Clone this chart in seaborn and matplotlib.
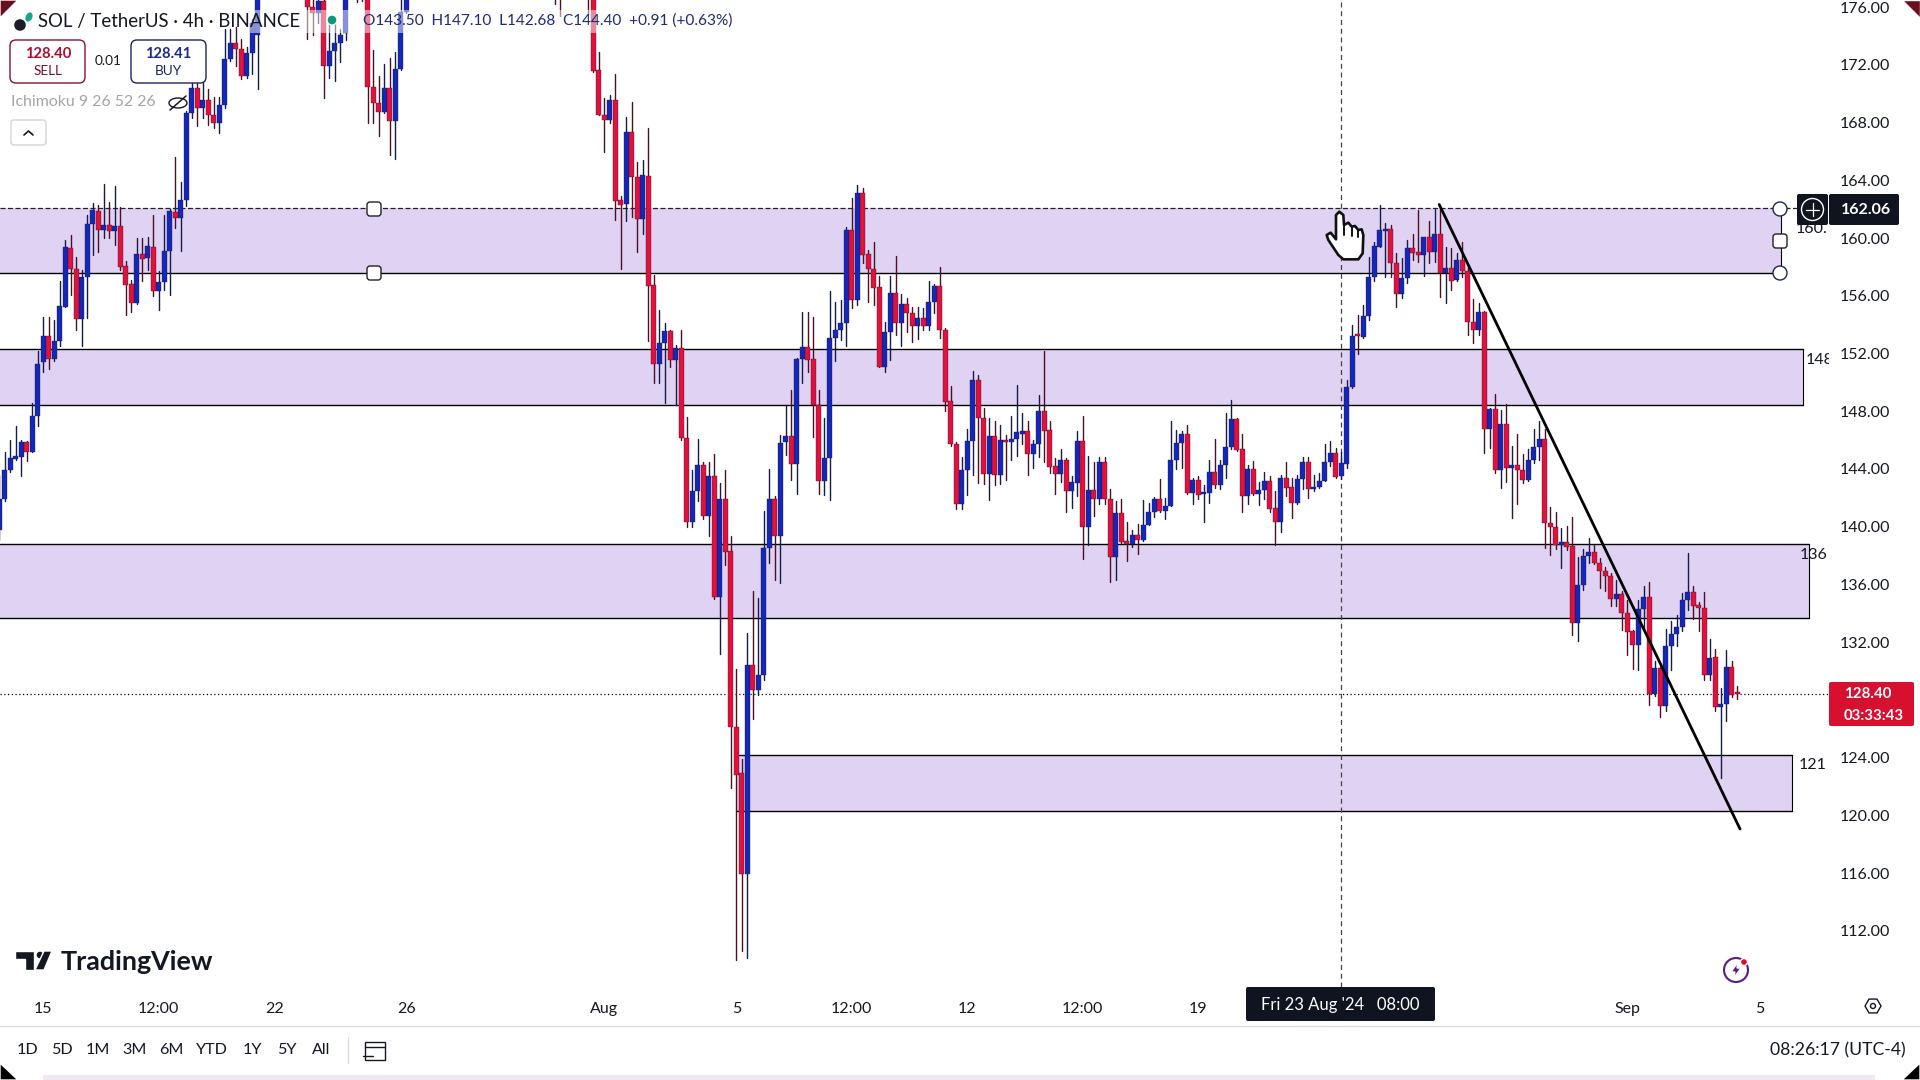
import matplotlib
matplotlib.use('Agg')
import matplotlib.pyplot as plt
from matplotlib.patches import Circle, FancyBboxPatch, Polygon, Rectangle, RegularPolygon, Ellipse
import pandas as pd
import seaborn as sns

# 4h candles, Jul 13 16:00 to Sep 3 20:00; those above 176.5 are off the chart and only estimated
first_candle = '2024-07-13 16:00'
opens = [
    139.8,141.9,143.9,144.7,144.85,145.85,145.2,147.65,151.4,153.2,
    151.6,152.9,155.25,159.3,157.85,154.4,157.3,161.0,161.9,160.55,
    160.9,160.5,160.85,158.05,156.8,155.5,158.9,158.6,159.35,156.3,
    156.95,159.1,161.8,161.4,162.65,168.7,170.4,169.05,169.55,168.5,
    167.95,169.2,172.4,173.55,173.1,171.25,172.8,174.1,177.0,178.8,
    179.9,181.2,180.4,181.8,183.0,181.6,179.4,176.0,175.6,176.4,
    171.95,173.0,173.55,174.2,177.0,178.4,179.0,177.9,170.45,169.35,
    168.75,170.4,168.1,171.75,175.7,177.4,179.6,181.2,180.2,181.8,
    183.4,182.2,180.8,182.0,184.0,183.2,182.0,181.0,182.2,183.4,
    182.8,181.2,180.2,181.0,182.6,181.6,180.4,181.6,183.0,182.0,
    179.8,178.6,180.0,178.6,179.8,180.8,179.6,178.4,177.0,171.65,
    168.55,168.15,169.6,162.65,162.35,167.35,164.25,161.35,164.3,156.75,
    151.25,152.7,153.55,151.55,152.35,146.15,140.35,142.5,144.25,140.75,
    143.5,135.15,141.95,138.3,126.1,122.9,115.95,130.4,128.7,129.75,
    138.55,141.95,139.35,145.85,146.3,144.35,151.65,152.45,151.6,148.45,
    143.15,144.75,153.05,153.6,154.1,160.55,155.7,163.1,158.9,157.85,
    156.6,151.1,153.5,156.2,154.1,155.4,154.8,153.9,154.45,153.9,
    155.6,156.7,153.6,148.7,145.75,141.55,143.9,145.95,150.2,147.5,
    143.65,146.3,143.6,146.0,145.85,146.05,146.45,146.65,145.05,145.7,
    148.0,146.7,144.2,143.65,144.65,142.45,143.05,145.95,139.95,142.55,
    141.95,144.45,141.95,137.9,140.95,139.0,138.8,139.4,139.05,140.15,
    141.05,141.9,141.1,141.45,144.6,145.8,146.45,142.35,143.25,142.25,
    142.3,143.8,142.9,144.25,145.55,147.45,145.35,142.1,144.0,142.25,
    142.55,143.15,141.3,140.3,143.4,142.75,141.65,143.3,144.45,142.6,
    142.75,143.2,144.45,145.1,143.5,144.35,149.65,153.25,153.15,154.6,
    157.3,159.4,160.5,160.6,158.25,156.1,157.2,159.3,159.05,158.85,
    160.05,159.05,160.3,157.6,157.95,157.1,158.5,157.7,154.2,153.6,
    154.9,146.75,148.15,143.95,147.1,144.05,144.25,143.9,143.25,144.6,
    145.55,146.05,140.25,139.95,138.7,138.95,138.65,133.3,135.95,137.95,
    138.25,137.5,136.95,136.6,135.0,135.35,134.05,132.75,131.8,134.3,
    135.15,128.4,130.2,127.6,131.75,132.55,133.05,134.9,135.45,134.55,
    134.35,129.75,130.95,127.5,127.7,130.25,128.45,
]
highs = [
    143.6,145.2,146.0,147.0,146.0,145.95,148.6,152.2,154.5,154.5,
    154.3,157.0,159.9,160.2,158.7,157.8,161.6,162.45,162.3,163.75,
    162.5,163.6,162.15,158.4,157.1,160.0,160.0,160.1,161.6,157.7,
    161.6,162.05,165.65,163.9,168.8,170.85,170.85,170.85,170.3,169.75,
    169.8,174.5,174.5,174.65,173.8,173.25,175.2,177.5,179.5,180.6,
    182.0,183.4,182.2,184.0,184.6,182.8,180.2,177.4,177.2,177.6,
    174.9,174.9,174.5,177.8,179.2,180.0,180.2,178.9,173.05,171.25,
    172.05,172.45,172.9,176.7,178.3,180.2,182.0,183.0,182.4,184.2,
    185.0,183.6,182.6,184.6,186.0,184.6,183.4,182.6,184.0,185.2,
    184.0,182.8,181.6,183.2,184.4,183.0,182.0,183.6,184.8,183.2,
    181.2,180.6,181.8,180.4,181.6,182.2,180.8,179.6,178.5,172.9,
    169.7,169.9,171.4,162.9,168.4,169.45,165.3,165.4,167.6,157.45,
    155.0,154.1,153.6,152.6,153.65,147.6,143.9,146.05,144.5,144.5,
    145.05,143.0,143.9,139.35,130.15,123.9,132.65,135.55,135.05,141.1,
    144.0,142.1,146.35,148.4,149.5,151.7,154.9,154.85,154.55,149.45,
    147.5,156.35,155.55,155.7,160.8,162.75,163.7,163.5,159.15,159.7,
    157.35,154.2,157.35,158.75,156.15,155.85,155.25,155.25,155.15,157.0,
    156.85,158.0,153.75,149.75,145.9,144.85,146.75,150.8,150.5,148.2,
    147.5,147.35,147.05,146.35,147.65,149.8,147.9,147.3,146.0,149.1,
    152.2,147.3,144.75,145.35,144.75,143.5,146.6,147.65,144.9,144.45,
    144.85,144.85,142.6,141.8,141.9,140.3,139.75,140.2,141.85,141.65,
    142.05,143.3,142.0,147.35,146.7,146.6,147.05,143.4,143.5,142.9,
    144.65,146.1,144.6,147.9,148.8,147.5,146.4,144.3,144.55,143.1,
    143.8,143.5,142.5,143.6,144.45,143.4,143.6,144.85,144.85,143.6,
    143.7,145.75,145.95,145.45,145.2,150.15,154.0,154.65,155.35,158.7,
    159.75,162.3,161.05,160.9,159.0,158.6,159.85,160.3,161.95,160.1,
    161.15,162.0,162.0,159.4,159.3,158.95,159.7,158.0,155.75,155.5,
    154.95,148.2,149.2,148.1,148.5,145.6,146.4,145.05,145.35,146.8,
    147.3,146.75,141.35,141.05,139.9,140.05,140.7,137.9,138.45,139.25,
    138.75,137.8,137.2,136.8,136.3,135.55,134.9,132.85,134.9,135.9,
    136.2,130.7,130.25,132.9,133.45,133.9,135.4,138.15,135.9,134.8,
    135.45,132.2,131.55,128.85,131.45,130.7,128.95,
]
lows = [
    139.1,141.8,143.8,144.6,143.5,144.55,145.15,147.0,150.75,150.9,
    151.5,152.55,155.2,156.05,153.6,152.5,154.45,158.8,159.05,160.0,
    160.0,159.5,157.8,154.7,154.9,155.4,157.0,157.8,156.0,155.0,
    156.4,156.05,160.7,159.1,162.2,168.3,167.75,168.3,167.85,167.6,
    167.25,169.0,172.3,171.9,171.0,171.1,171.4,170.3,176.7,177.6,
    178.8,180.0,179.2,180.6,181.0,178.8,173.8,174.1,174.9,169.7,
    171.1,170.9,172.2,173.7,176.7,176.35,176.4,168.0,168.0,167.05,
    168.7,165.75,165.45,171.65,175.6,176.8,178.6,179.8,179.0,180.8,
    181.6,180.2,179.4,181.0,182.8,181.4,180.4,179.2,181.0,182.2,
    180.6,179.6,178.4,180.0,181.2,179.8,178.8,180.4,181.4,179.2,
    177.8,176.2,175.4,177.6,178.4,179.0,177.8,175.5,171.5,168.5,
    166.0,168.0,161.25,157.85,161.15,161.45,159.05,160.3,152.85,149.95,
    149.95,148.55,151.1,148.45,146.0,139.95,140.0,141.8,140.5,139.35,
    135.0,131.15,137.35,121.9,110.0,110.6,110.1,126.7,128.35,129.35,
    137.45,136.3,136.1,145.0,143.25,142.3,149.95,150.75,146.25,142.3,
    142.2,141.85,151.45,152.95,152.5,155.15,155.35,158.25,155.6,155.35,
    151.05,150.75,151.55,153.3,152.55,153.5,152.8,153.0,153.65,153.65,
    154.8,153.05,148.05,145.6,141.2,141.2,142.2,143.6,143.0,142.95,
    141.85,142.9,142.95,143.25,144.65,144.9,145.75,143.6,144.05,144.8,
    144.45,143.75,142.3,143.1,141.05,141.3,142.1,137.75,138.75,140.75,
    141.6,141.6,136.2,136.3,138.85,137.6,138.6,138.1,139.0,140.1,
    140.7,141.05,140.55,141.4,144.0,144.05,142.3,141.6,141.9,140.35,
    141.65,142.65,142.6,143.35,145.35,145.25,141.05,141.6,142.2,141.5,
    141.9,141.0,138.75,139.65,142.1,140.6,141.6,142.6,142.0,142.45,
    142.7,143.15,144.2,143.35,143.3,144.1,149.6,151.95,153.1,154.35,
    157.0,159.35,157.3,157.3,155.25,155.85,156.9,158.5,158.35,157.35,
    158.25,158.35,155.95,155.5,156.4,157.0,157.3,153.3,152.7,153.25,
    145.1,145.45,143.75,142.7,143.1,140.6,141.6,143.0,143.2,144.4,
    144.65,138.55,138.05,138.45,137.15,138.35,132.5,132.05,135.6,137.5,
    137.4,135.75,135.55,134.5,134.5,132.85,131.1,130.15,130.05,132.85,
    127.65,128.3,126.8,127.25,130.05,131.75,132.8,134.25,133.6,132.8,
    129.35,129.35,127.2,122.6,126.55,128.2,128.05,
]
closes = [
    141.9,143.9,144.75,144.9,145.85,145.15,147.7,151.3,153.2,151.6,
    152.9,155.3,159.35,157.85,154.4,157.3,161.0,161.95,160.55,160.9,
    160.5,160.85,158.0,156.75,155.5,158.9,158.55,159.45,156.3,156.95,
    159.1,161.85,161.4,162.65,168.7,170.4,169.05,169.55,168.5,167.95,
    169.2,172.4,173.55,173.1,171.25,172.8,174.9,176.9,178.8,179.9,
    181.2,180.4,181.8,183.0,181.6,179.4,176.0,175.6,176.4,171.9,
    173.0,173.55,174.1,177.0,178.4,179.0,177.9,170.45,169.35,168.75,
    170.4,168.1,171.75,175.7,177.4,179.6,181.2,180.2,181.8,183.4,
    182.2,180.8,182.0,184.0,183.2,182.0,181.0,182.2,183.4,182.8,
    181.2,180.2,181.0,182.6,181.6,180.4,181.6,183.0,182.0,179.8,
    178.6,180.0,178.6,179.8,180.8,179.6,178.4,177.0,171.6,168.55,
    168.15,169.6,162.6,162.3,167.35,164.25,161.35,164.35,156.7,151.25,
    152.7,153.55,151.55,152.35,146.15,140.35,142.45,144.25,140.75,143.5,
    135.15,141.95,138.25,126.1,122.8,115.9,130.4,128.7,129.75,138.55,
    141.95,139.35,145.8,146.3,144.35,151.65,152.45,151.55,148.45,143.15,
    144.75,153.05,153.6,154.1,160.55,155.7,163.1,158.85,157.85,156.55,
    151.1,153.5,156.2,154.1,155.4,154.8,153.9,154.45,153.9,155.6,
    156.7,153.6,148.67,145.7,141.55,143.9,145.95,150.2,147.5,143.65,
    146.3,143.6,146.0,145.85,146.05,146.55,146.65,145.05,145.7,148.0,
    146.65,144.15,143.65,144.65,142.45,143.1,145.95,139.95,142.55,141.95,
    144.45,141.95,137.9,140.95,138.95,138.8,139.4,139.1,140.15,141.05,
    141.9,141.1,141.45,144.65,145.8,146.45,142.35,143.25,142.2,142.35,
    143.8,142.9,144.25,145.55,147.45,145.3,142.1,144.0,142.25,142.55,
    143.15,141.25,140.3,143.4,142.7,141.65,143.3,144.45,142.6,142.75,
    143.2,144.45,145.1,143.45,144.4,149.65,153.2,153.2,154.6,157.3,
    159.45,160.55,160.6,158.25,156.1,157.2,159.3,159.0,158.8,160.05,
    159.05,160.3,157.6,157.95,157.05,158.5,157.7,154.2,153.6,154.9,
    146.75,148.15,143.9,147.1,144.05,144.25,143.9,143.25,144.65,145.55,
    146.05,140.25,139.95,138.7,138.95,138.6,133.3,135.95,138.0,138.25,
    137.5,136.95,136.6,135.0,135.35,134.05,132.7,131.8,134.3,135.15,
    128.4,130.2,127.6,131.75,132.55,133.05,134.9,135.45,134.5,134.35,
    129.75,130.9,127.5,127.7,130.25,128.35,128.4,
]

# purple supply/demand zones
zone_tops = [162.06, 152.3, 138.8, 124.2]
zone_bottoms = [157.55, 148.4, 133.7, 120.3]
zone_starts = ['2024-07-01 00:00', '2024-07-01 00:00', '2024-07-01 00:00', '2024-08-05 00:00']
zone_ends = ['2024-09-05 16:00', '2024-09-06 08:00', '2024-09-06 12:00', '2024-09-06 00:00']
zone_labels = ['160.', '148', '136', '121']
label_times = ['2024-09-06 02:48', '2024-09-06 10:00', '2024-09-06 05:36', '2024-09-06 04:48']
label_prices = [160.6, 151.55, 138.05, 123.5]

trend_times = ['2024-08-26 07:12', '2024-09-04 10:00']
trend_prices = [162.33, 119.05]

last_price = 128.40
cross_price = 162.06
cross_time = '2024-08-23 08:00'

price_ticks = [112, 116, 120, 124, 128, 132, 136, 140, 144, 148, 152, 156, 160, 164, 168, 172, 176]
time_ticks = ['2024-07-15', '2024-07-18 12:00', '2024-07-22', '2024-07-26', '2024-08-01', '2024-08-05',
              '2024-08-08 12:00', '2024-08-12', '2024-08-15 12:00', '2024-08-19', '2024-09-01', '2024-09-05']
time_labels = ['15', '12:00', '22', '26', 'Aug', '5', '12:00', '12', '12:00', '19', 'Sep', '5']
range_buttons = ['1D', '5D', '1M', '3M', '6M', 'YTD', '1Y', '5Y', 'All']

UP = '#1428b8'
DOWN = '#e2103c'
ZONE = '#dfd2f3'
INK = '#131722'
FONT = 'Lato'


def candle_pos(when):
    return (pd.Timestamp(when) - pd.Timestamp(first_candle)) / pd.Timedelta(hours=4)


sns.set_theme(style='white')
plt.rcParams['font.family'] = [FONT, 'DejaVu Sans']

df = pd.DataFrame({'open': opens, 'high': highs, 'low': lows, 'close': closes})
df['pos'] = range(len(df))
df['dir'] = ['up' if c >= o else 'down' for o, c in zip(opens, closes)]
wicks = pd.concat([df.assign(price=df['low']), df.assign(price=df['high'])])

fig = plt.figure(figsize=(19.2, 10.8), dpi=100, facecolor='white')
ax = fig.add_axes([0, 1 - 987 / 1080, 1829 / 1920, 987 / 1080])

# zones go under the candles
for top, bottom, start, end in zip(zone_tops, zone_bottoms, zone_starts, zone_ends):
    x0, x1 = candle_pos(start), candle_pos(end)
    ax.add_patch(Rectangle((x0, bottom), x1 - x0, top - bottom, facecolor=ZONE, edgecolor='none', zorder=1))
    ax.plot([x0, x1], [bottom, bottom], color='black', lw=1.0, zorder=1.5)
    if top != cross_price:
        ax.plot([x0, x1], [top, top], color='black', lw=1.0, zorder=1.5)
    ax.plot([x1, x1], [bottom, top], color='black', lw=0.8, zorder=1.5)

sns.lineplot(data=wicks, x='pos', y='price', units='pos', hue='dir', estimator=None, sort=False,
             palette={'up': '#141c4c', 'down': '#4c1022'}, linewidth=1.0, legend=False, ax=ax, zorder=3)
for name, color in [('up', UP), ('down', DOWN)]:
    part = df[df['dir'] == name]
    ax.bar(part['pos'], (part['close'] - part['open']).abs().clip(lower=0.12),
           bottom=part[['open', 'close']].min(axis=1), width=0.84, color=color,
           edgecolor='#2a1030', linewidth=0.25, zorder=4)

x_left = candle_pos(first_candle) + 0.13
x_right = x_left + 1829 / 5.5
ax.set_xlim(x_left, x_right)
ax.set_ylim(108.1, 176.5)

# crosshair, last price and trend line
ax.axhline(last_price, color='black', lw=0.9, ls=(0, (1, 2)), zorder=2)
ax.plot([x_left, candle_pos('2024-09-08 08:00')], [cross_price, cross_price], color='#222222', lw=0.9,
        ls=(0, (4, 2)), zorder=2)
ax.axvline(candle_pos(cross_time), color='#444444', lw=0.9, ls=(0, (4, 3)), zorder=2)
sns.lineplot(x=[candle_pos(t) for t in trend_times], y=trend_prices, color='black', linewidth=2.0, ax=ax, zorder=5)

# labels of the zones, cut by the price scale
for when, price, text in zip(label_times, label_prices, zone_labels):
    ax.text(candle_pos(when), price, text, fontsize=11.5, color=INK, va='center', ha='left', clip_on=True, zorder=2)

ax.yaxis.tick_right()
ax.set_yticks(price_ticks, [f'{p:.2f}' for p in price_ticks])
ax.set_xticks([candle_pos(t) for t in time_ticks], time_labels)
ax.tick_params(axis='y', length=0, pad=8, labelsize=11.5, labelcolor=INK)
ax.tick_params(axis='x', length=0, pad=10.5, labelsize=11.5, labelcolor=INK)
ax.set_xlabel('')
ax.set_ylabel('')
ax.grid(False)
sns.despine(ax=ax, left=True, right=True, top=True, bottom=True)

# the TradingView chrome sits on a pixel overlay
ui = fig.add_axes([0, 0, 1, 1], zorder=5)
ui.set_xlim(0, 1920)
ui.set_ylim(1080, 0)
ui.axis('off')
ui.patch.set_alpha(0)


def rbox(x, y, w, h, face='white', edge='none', lw=1.0, radius=4, alpha=None, z=3):
    ui.add_patch(FancyBboxPatch((x, y), w, h, boxstyle=f'round,pad=0,rounding_size={radius}', facecolor=face,
                                edgecolor=edge, linewidth=lw, alpha=alpha, zorder=z))


# legend
ui.add_patch(Rectangle((250, 10), 500, 23, facecolor='white', alpha=0.5, edgecolor='none', zorder=1))
ui.add_patch(Circle((20, 25), 6.5, facecolor='#1c1c2c', zorder=3))
ui.add_patch(Ellipse((29, 17), 8, 11, angle=25, facecolor='#17a589', zorder=3))
ui.text(38, 21, 'SOL / TetherUS · 4h · BINANCE', fontsize=13.4, color=INK, va='center', ha='left', zorder=4)
ui.add_patch(Circle((332, 20), 5, facecolor='#089981', zorder=3))
ui.text(363, 20.5, 'O143.50  H147.10  L142.68  C144.40  +0.91 (+0.63%)', fontsize=11.1, color='#1c2a80', va='center',
        ha='left', zorder=4)
rbox(10, 40, 75, 43, edge='#8c1030', lw=1.0, radius=6)
rbox(131, 40, 75, 43, edge='#1c2460', lw=1.0, radius=6)
ui.text(48, 54, '128.40', fontsize=10.6, fontweight='bold', color='#b00c2c', va='center', ha='center', zorder=4)
ui.text(48, 71, 'SELL', fontsize=9.8, color='#7a1028', va='center', ha='center', zorder=4)
ui.text(168, 54, '128.41', fontsize=10.6, fontweight='bold', color='#1c2a90', va='center', ha='center', zorder=4)
ui.text(168, 71, 'BUY', fontsize=9.8, color='#1c2460', va='center', ha='center', zorder=4)
ui.text(108, 61, '0.01', fontsize=9.8, color=INK, va='center', ha='center', zorder=4)
ui.text(11, 102.5, 'Ichimoku 9 26 52 26', fontsize=11.4, color='#a4a4a4', va='center', ha='left', zorder=4)
ui.add_patch(Ellipse((178, 103), 18, 10, facecolor='white', edgecolor=INK, lw=1.0, zorder=3))
ui.plot([170, 186], [110, 96], color=INK, lw=1.1, zorder=4)
rbox(11, 120, 35, 25, edge='#d4d4d4', lw=1.0, radius=3)
ui.plot([24, 28.5, 33], [135, 131, 135], color=INK, lw=1.2, zorder=4)

# zone handles
for x, y in [(374, 209), (374, 273), (1780, 241)]:
    rbox(x - 7, y - 7, 14, 14, edge='#222222', lw=1.0, radius=3, z=4)
for y in [209, 273]:
    ui.add_patch(Circle((1780, y), 7, facecolor='white', edgecolor='#1c2460', lw=1.0, zorder=4))

# hand cursor over the crosshair
hand = [(108, 75), (118, 65), (130, 75), (132, 105), (145, 98), (155, 110), (165, 108), (175, 120), (185, 118),
        (190, 135), (188, 190), (175, 208), (130, 208), (115, 195), (85, 150), (80, 135), (92, 128), (108, 148)]
ui.add_patch(Polygon([(1300 + x / 3, 190 + y / 3) for x, y in hand], closed=True, facecolor='white',
                     edgecolor='#111111', lw=1.9, joinstyle='round', zorder=4))
for x, y0, y1 in [(132, 105, 135), (155, 110, 137), (175, 120, 140)]:
    ui.plot([1300 + x / 3] * 2, [190 + y0 / 3, 190 + y1 / 3], color='#111111', lw=1.4, zorder=5)

# price tags
rbox(1797, 194, 31, 31, face='#0f1420', radius=2)
ui.add_patch(Circle((1812.5, 209.5), 11, facecolor='none', edgecolor='white', lw=1.0, zorder=4))
ui.plot([1806, 1819], [209.5, 209.5], color='white', lw=0.9, zorder=4)
ui.plot([1812.5, 1812.5], [203, 216], color='white', lw=0.9, zorder=4)
rbox(1829, 194, 70, 31, face='#0f1420', radius=2)
ui.text(1866, 210, f'{cross_price:.2f}', fontsize=11.5, fontweight='bold', color='white', va='center', ha='center',
        zorder=4)
rbox(1829, 682, 85, 44, face='#d8102f', radius=2)
ui.text(1868, 693.5, f'{last_price:.2f}', fontsize=10.8, fontweight='bold', color='white', va='center', ha='center',
        zorder=4)
ui.text(1874, 716, '03:33:43', fontsize=10.8, fontweight='bold', color='white', va='center', ha='center', zorder=4)

# crosshair time tag
rbox(1246, 987, 189, 34, face='#0f1420', radius=2)
ui.text(1340, 1005, "Fri 23 Aug '24   08:00", fontsize=12, color='white', va='center', ha='center', zorder=4)

# TradingView logo
ui.add_patch(Polygon([(15, 951), (34, 951), (34, 970), (25, 970), (25, 959), (15, 959)], closed=True,
                     facecolor='#131722', zorder=3))
ui.add_patch(Circle((40, 955), 4, facecolor='#131722', zorder=3))
ui.add_patch(Polygon([(44, 951), (52, 951), (44, 970), (35, 970)], closed=True, facecolor='#131722', zorder=3))
ui.text(61, 962, 'TradingView', fontsize=19.4, fontweight='bold', color='#131722', va='center', ha='left', zorder=3)

# small icons
ui.add_patch(Circle((1736, 970), 12, facecolor='white', edgecolor='#5b1a8b', lw=1.5, zorder=3))
ui.add_patch(Polygon([(1738, 962), (1731, 972), (1735, 972), (1733, 979), (1741, 968), (1737, 968)], closed=True,
                     facecolor='#5b1a8b', zorder=4))
ui.add_patch(Circle((1744, 962), 3.5, facecolor='#d8102f', zorder=4))
ui.add_patch(RegularPolygon((1873, 1006), 6, radius=8, orientation=0.52, facecolor='white', edgecolor=INK, lw=1.0,
                            zorder=3))
ui.add_patch(Circle((1873, 1006), 2.5, facecolor='white', edgecolor=INK, lw=1.0, zorder=4))

# bottom bar
ui.plot([0, 1920], [1026, 1026], color='#dcdcdc', lw=1.0, zorder=1)
button_x = [27, 62, 98, 135, 171, 212, 252, 287, 321]
for x, text in zip(button_x, range_buttons):
    ui.text(x, 1050, text, fontsize=11.6, color=INK, va='center', ha='center', zorder=3)
ui.plot([348, 348], [1037, 1063], color='#dcdcdc', lw=1.0, zorder=1)
ui.add_patch(Rectangle((365, 1042), 20, 18, facecolor='none', edgecolor=INK, lw=1.0, zorder=3))
ui.plot([365, 385], [1047, 1047], color=INK, lw=1.0, zorder=3)
ui.plot([363, 373], [1056, 1056], color=INK, lw=1.0, zorder=3)
ui.text(1906, 1050, '08:26:17 (UTC-4)', fontsize=12.6, color=INK, va='center', ha='right', zorder=3)

# the edge of the recording
ui.add_patch(Rectangle((43, 1075), 1832, 5, facecolor='#f0eaf0', edgecolor='none', zorder=1))
ui.add_patch(Polygon([(0, 0), (18, 0), (0, 18)], closed=True, facecolor='#6a0f1e', zorder=6))
ui.add_patch(Polygon([(1902, 0), (1920, 0), (1920, 18)], closed=True, facecolor='#6a0f1e', zorder=6))
ui.add_patch(Polygon([(0, 1063), (18, 1080), (0, 1080)], closed=True, facecolor='black', zorder=6))
ui.add_patch(Polygon([(1920, 1063), (1902, 1080), (1920, 1080)], closed=True, facecolor='black', zorder=6))

fig.savefig('out.png', dpi=100)
